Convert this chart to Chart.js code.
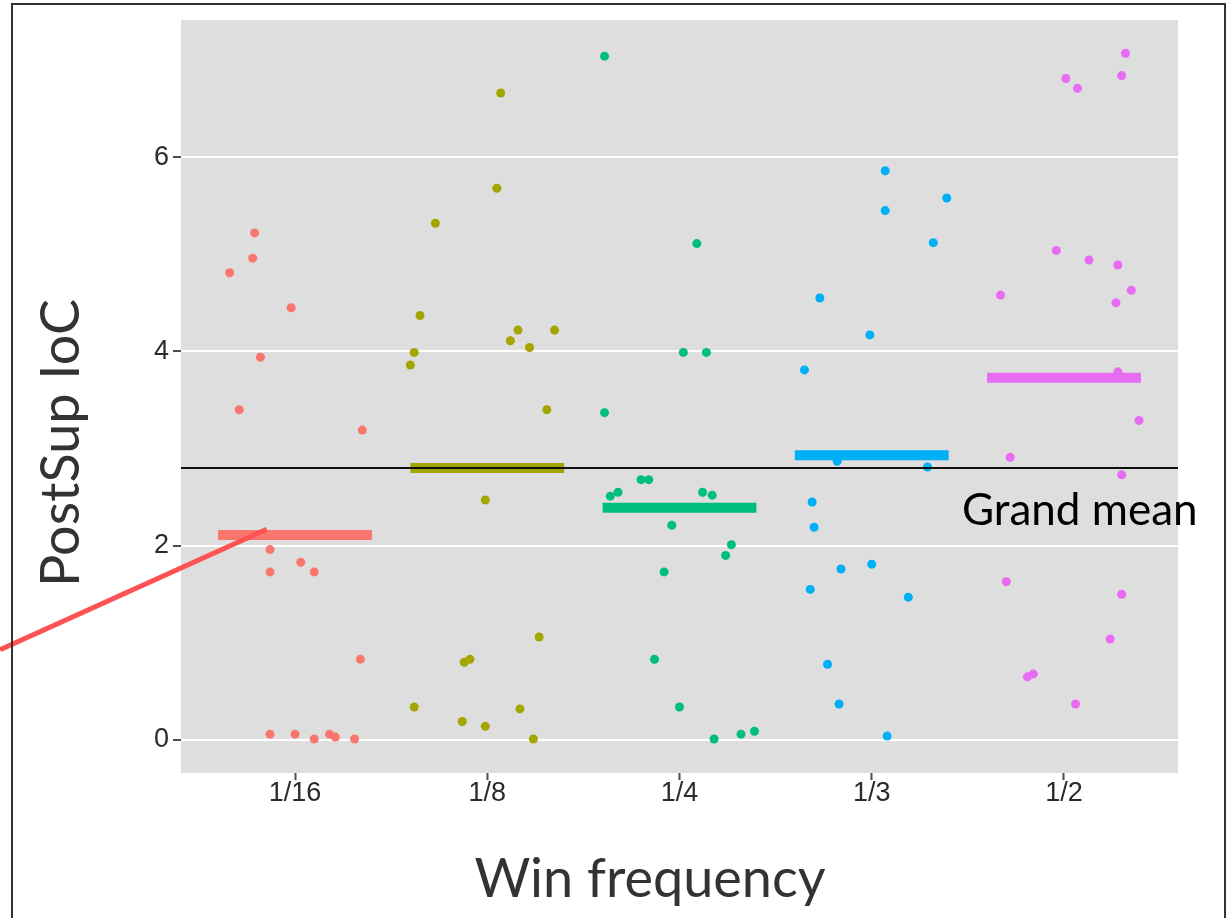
<!DOCTYPE html>
<html>
<head>
<meta charset="utf-8">
<script src="https://cdn.jsdelivr.net/npm/chart.js@4/dist/chart.umd.min.js"></script>
<style>
  html, body { margin: 0; padding: 0; background: #ffffff; }
  #wrap { width: 1230px; height: 918px; position: relative; }
</style>
</head>
<body>
<div id="wrap"><canvas id="c" width="1230" height="918"></canvas></div>
<script>
// ---- data ----
const categories = ['1/16', '1/8', '1/4', '1/3', '1/2'];
const yTicks = [0, 2, 4, 6];
const groupColors = ['#F8766D', '#A3A500', '#00BF7D', '#00B0F6', '#E76BF3'];

const values16 = [5.22, 4.96, 4.81, 4.45, 3.94, 3.40, 3.19, 1.96, 1.83, 1.73, 1.73, 0.83, 0.06, 0.06, 0.01, 0.06, 0.03, 0.01];
const jitter16 = [-0.21, -0.22, -0.34, -0.02, -0.18, -0.29, 0.35, -0.13, 0.03, -0.13, 0.10, 0.34, -0.13, 0.00, 0.10, 0.18, 0.21, 0.31];

const values8 = [6.66, 5.68, 5.32, 4.37, 3.99, 3.86, 4.22, 4.11, 4.04, 4.22, 3.40, 2.47, 1.06, 0.80, 0.83, 0.34, 0.32, 0.19, 0.14, 0.01];
const jitter8 = [0.07, 0.05, -0.27, -0.35, -0.38, -0.40, 0.16, 0.12, 0.22, 0.35, 0.31, -0.01, 0.27, -0.12, -0.09, -0.38, 0.17, -0.13, -0.01, 0.24];

const values4 = [7.04, 5.11, 3.99, 3.99, 3.37, 2.68, 2.68, 2.51, 2.55, 2.55, 2.52, 2.21, 2.01, 1.90, 1.73, 0.83, 0.34, 0.01, 0.06, 0.09];
const jitter4 = [-0.39, 0.09, 0.02, 0.14, -0.39, -0.20, -0.16, -0.36, -0.32, 0.12, 0.17, -0.04, 0.27, 0.24, -0.08, -0.13, 0.00, 0.18, 0.32, 0.39];

const values3 = [5.86, 5.58, 5.45, 5.12, 4.55, 4.17, 3.81, 2.87, 2.81, 2.45, 2.19, 1.81, 1.76, 1.55, 1.47, 0.78, 0.37, 0.04];
const jitter3 = [0.07, 0.39, 0.07, 0.32, -0.27, -0.01, -0.35, -0.18, 0.29, -0.31, -0.30, 0.00, -0.16, -0.32, 0.19, -0.23, -0.17, 0.08];

const values2 = [7.07, 6.81, 6.84, 6.71, 5.04, 4.94, 4.89, 4.63, 4.58, 4.50, 3.79, 3.29, 2.91, 2.73, 1.63, 1.50, 1.04, 0.65, 0.68, 0.37];
const jitter2 = [0.32, 0.01, 0.30, 0.07, -0.04, 0.13, 0.28, 0.35, -0.33, 0.27, 0.28, 0.39, -0.28, 0.30, -0.30, 0.30, 0.24, -0.19, -0.16, 0.06];

const groupMeans = [2.11, 2.80, 2.39, 2.93, 3.73];
const grandMean = 2.80;
const grandMeanLabel = 'Grand mean';
const xTitle = 'Win frequency';
const yTitle = 'PostSup IoC';

// ---- build datasets ----
const groupValues = [values16, values8, values4, values3, values2];
const groupJitter = [jitter16, jitter8, jitter4, jitter3, jitter2];
const X_MIN = -0.593, X_MAX = 4.593, Y_MIN = -0.34, Y_MAX = 7.41;
const BAR_HALF = 0.4;

const datasets = [];
groupValues.forEach((vals, i) => {
  datasets.push({
    type: 'scatter',
    label: categories[i],
    data: vals.map((v, k) => ({ x: i + groupJitter[i][k], y: v })),
    backgroundColor: groupColors[i],
    borderWidth: 0,
    pointRadius: 4.5,
    pointHoverRadius: 4.5,
    order: 3
  });
});
groupMeans.forEach((m, i) => {
  datasets.push({
    type: 'line',
    label: categories[i] + ' mean',
    data: [{ x: i - BAR_HALF, y: m }, { x: i + BAR_HALF, y: m }],
    borderColor: groupColors[i],
    borderWidth: 10,
    borderCapStyle: 'butt',
    pointRadius: 0,
    showLine: true,
    order: 2
  });
});
datasets.push({
  type: 'line',
  label: grandMeanLabel,
  data: [{ x: X_MIN, y: grandMean }, { x: X_MAX, y: grandMean }],
  borderColor: '#111111',
  borderWidth: 2,
  pointRadius: 0,
  order: 1
});

// annotation pointer (red line), in data coordinates
const pointerFrom = { x: -1.534, y: 0.93 };
const pointerTo = { x: -0.147, y: 2.169 };

const decor = {
  id: 'decor',
  beforeDraw(chart) {
    const { ctx, chartArea: a } = chart;
    ctx.save();
    ctx.fillStyle = '#ffffff';
    ctx.fillRect(0, 0, chart.width, chart.height);
    ctx.fillStyle = '#DEDEDE';
    ctx.fillRect(a.left, a.top, a.right - a.left, a.bottom - a.top);
    ctx.restore();
  },
  afterDraw(chart) {
    const { ctx } = chart;
    const xs = chart.scales.x, ys = chart.scales.y;
    ctx.save();
    ctx.strokeStyle = '#FF5252';
    ctx.lineWidth = 5;
    ctx.lineCap = 'butt';
    ctx.beginPath();
    ctx.moveTo(xs.getPixelForValue(pointerFrom.x), ys.getPixelForValue(pointerFrom.y));
    ctx.lineTo(xs.getPixelForValue(pointerTo.x), ys.getPixelForValue(pointerTo.y));
    ctx.stroke();
    ctx.fillStyle = '#000000';
    ctx.font = '44px Lato';
    ctx.textAlign = 'left';
    ctx.textBaseline = 'alphabetic';
    ctx.fillText(grandMeanLabel, 962, 525);
    ctx.fillStyle = '#333333';
    ctx.font = '54px Lato';
    ctx.textAlign = 'center';
    ctx.fillText(xTitle, 650, 897);
    ctx.translate(79, 443);
    ctx.rotate(-Math.PI / 2);
    ctx.fillText(yTitle, 0, 0);
    ctx.restore();
    ctx.save();
    ctx.strokeStyle = '#333333';
    ctx.lineWidth = 2;
    ctx.strokeRect(12, 4, 1213, 940);
    ctx.restore();
  }
};

new Chart(document.getElementById('c'), {
  type: 'scatter',
  data: { datasets },
  options: {
    responsive: false,
    animation: false,
    devicePixelRatio: 1,
    layout: { padding: { top: 20, right: 52, left: 0, bottom: 0 } },
    plugins: { legend: { display: false }, tooltip: { enabled: false } },
    scales: {
      x: {
        type: 'linear',
        min: X_MIN,
        max: X_MAX,
        afterBuildTicks: (s) => { s.ticks = categories.map((c, i) => ({ value: i })); },
        afterFit: (s) => { s.height = 145; },
        ticks: {
          callback: (v) => categories[Math.round(v)],
          font: { family: 'Liberation Sans', size: 27 },
          color: '#2b2b2b',
          padding: -3,
          maxRotation: 0,
          autoSkip: false
        },
        grid: { drawOnChartArea: false, tickLength: 7, tickColor: '#4D4D4D', tickWidth: 2 },
        border: { display: false }
      },
      y: {
        type: 'linear',
        min: Y_MIN,
        max: Y_MAX,
        afterBuildTicks: (s) => { s.ticks = yTicks.map(v => ({ value: v })); },
        afterFit: (s) => { s.width = 181; },
        ticks: {
          callback: (v) => String(v),
          font: { family: 'Liberation Sans', size: 27 },
          color: '#2b2b2b',
          padding: 4
        },
        grid: { color: '#FFFFFF', lineWidth: 2, tickLength: 8, tickColor: '#4D4D4D', tickWidth: 2 },
        border: { display: false }
      }
    }
  },
  plugins: [decor]
});
</script>
</body>
</html>
